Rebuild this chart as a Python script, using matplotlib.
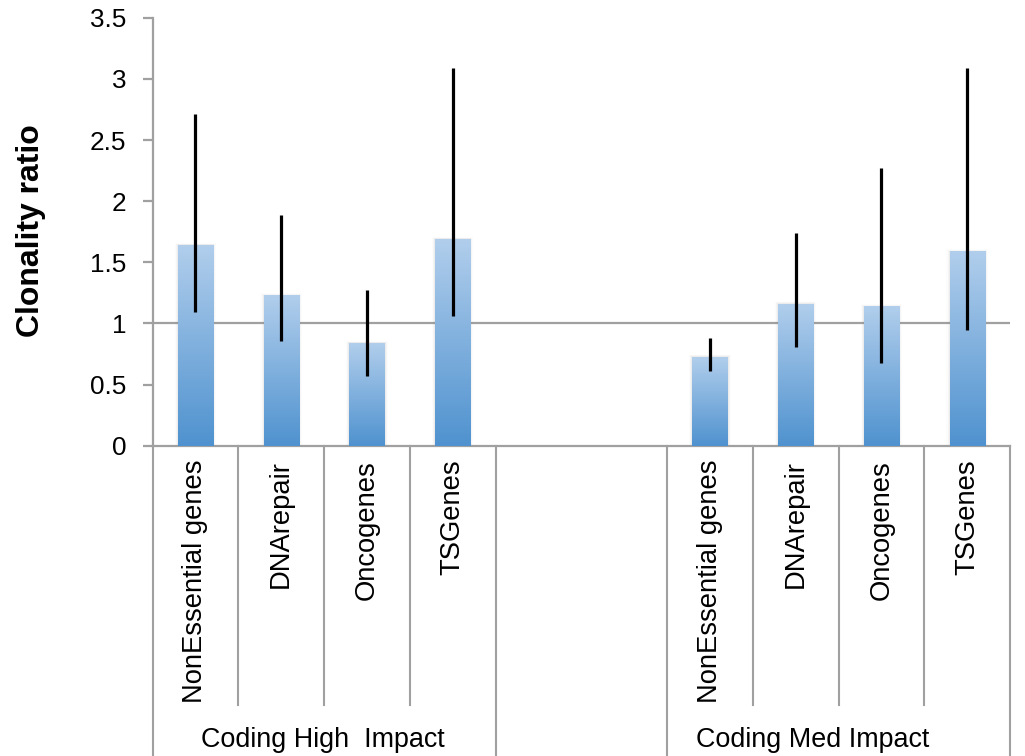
import matplotlib
matplotlib.use('Agg')
import matplotlib.pyplot as plt
import numpy as np
from matplotlib.colors import LinearSegmentedColormap
from matplotlib.transforms import blended_transform_factory
from matplotlib.ticker import FuncFormatter

plt.rcParams['font.family'] = ['Liberation Sans', 'DejaVu Sans']

# ---- data ----
categories = ["NonEssential genes", "DNArepair", "Oncogenes", "TSGenes", "", "",
              "NonEssential genes", "DNArepair", "Oncogenes", "TSGenes"]
groups = ["Coding High  Impact", "Coding Med Impact"]
values = [1.64, 1.23, 0.84, 1.69, np.nan, np.nan, 0.726, 1.16, 1.14, 1.59]
err_low = [1.09, 0.86, 0.57, 1.06, np.nan, np.nan, 0.61, 0.81, 0.68, 0.95]
err_high = [2.71, 1.89, 1.27, 3.09, np.nan, np.nan, 0.88, 1.74, 2.27, 3.09]
yticks = [0, 0.5, 1, 1.5, 2, 2.5, 3, 3.5]

# ---- figure ----
fig = plt.figure(figsize=(10.25, 7.56), dpi=100)
ax = fig.add_axes([0.1488, 0.4105, 0.8366, 0.5659])

x = np.arange(len(categories))
vals = np.array(values, dtype=float)
lo = np.array(err_low, dtype=float)
hi = np.array(err_high, dtype=float)

grid_col = '#a0a0a0'
ax.axhline(1, color=grid_col, lw=1.6, zorder=1)

bar_w = 0.41
plot_vals = np.nan_to_num(vals, nan=0.0)
bars = ax.bar(x, plot_vals, width=bar_w, color='none', edgecolor='none', zorder=3)

cmap = LinearSegmentedColormap.from_list('g', ['#4f92cf', '#b1ceec'])
grad = np.linspace(0, 1, 256).reshape(-1, 1)
for b, v in zip(bars, vals):
    if np.isnan(v):
        continue
    x0 = b.get_x()
    w = b.get_width()
    h = b.get_height()
    # soft shadow
    for k, a in enumerate([0.08, 0.05, 0.025]):
        d = 0.012 * (k + 1)
        ax.add_patch(plt.Rectangle((x0 - d, 0), w + 2 * d, h + d * 0.5,
                                   facecolor='#808080', alpha=a, edgecolor='none', zorder=2))
    im = ax.imshow(grad, extent=[x0, x0 + w, 0, h], origin='lower', cmap=cmap,
                   aspect='auto', zorder=3, interpolation='bicubic')
    im.set_clip_path(b)

yerr = np.array([vals - lo, hi - vals])
ax.errorbar(x, vals, yerr=yerr, fmt='none', ecolor='black', elinewidth=2.3,
            capsize=0, zorder=4)

ax.set_xlim(-0.5, len(categories) - 0.5)
ax.set_ylim(0, 3.5)
ax.set_yticks(yticks)
ax.yaxis.set_major_formatter(FuncFormatter(lambda v, p: '%g' % v))
ax.tick_params(axis='y', length=7, width=1.6, color=grid_col, labelsize=18.8, pad=12)
ax.set_xticks([])

for s in ['top', 'right']:
    ax.spines[s].set_visible(False)
for s in ['left', 'bottom']:
    ax.spines[s].set_color(grid_col)
    ax.spines[s].set_linewidth(1.6)

trans = blended_transform_factory(ax.transData, ax.transAxes)

# category labels
for xi, lab in zip(x, categories):
    if lab:
        ax.text(xi, -0.033, lab, transform=trans, rotation=90, ha='center', va='top',
                fontsize=19.7)

# separators
short_sep = [0.5, 1.5, 2.5, 6.5, 7.5, 8.5]
long_sep = [-0.5, 3.5, 5.5, 9.5]
for xb in short_sep:
    ax.plot([xb, xb], [0, -0.606], transform=trans, clip_on=False, color=grid_col, lw=1.5)
for xb in long_sep:
    ax.plot([xb, xb], [0, -0.80], transform=trans, clip_on=False, color=grid_col, lw=1.5)

# group labels
group_pos = [1.49, 7.2]
for gx, g in zip(group_pos, groups):
    ax.text(gx, -0.688, g, transform=trans, ha='center', va='center', fontsize=19.4)

fig.text(31 / 1025, (756 - 231) / 756, 'Clonality ratio', rotation=90,
         fontsize=23, fontweight='bold', ha='center', va='center')

fig.savefig('out.png', dpi=100)
